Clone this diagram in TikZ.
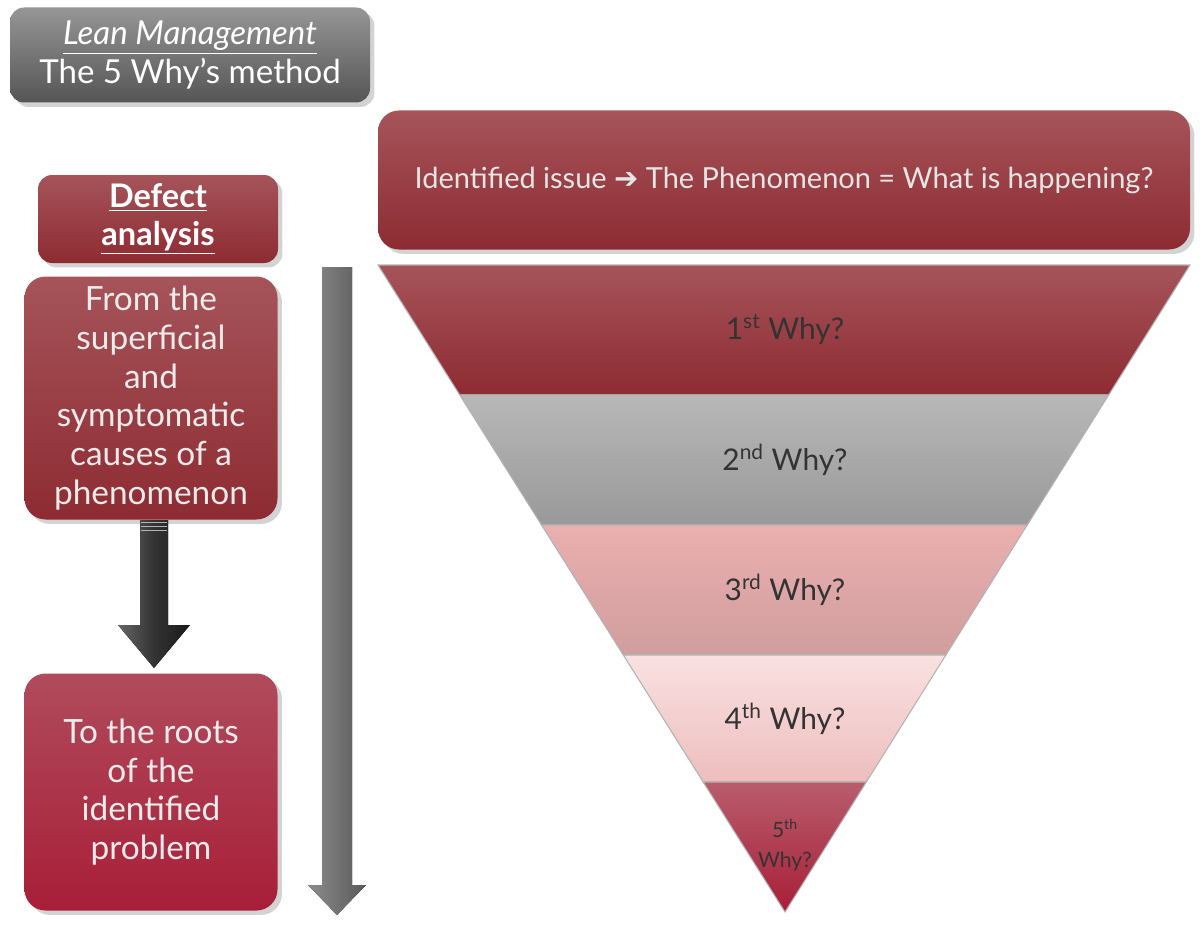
\documentclass[tikz,border=0pt]{standalone}
\usepackage{fontspec}
\setmainfont{Lato}
\newfontfamily\symfont{DejaVu Sans}
\usepackage{tikz}
\usetikzlibrary{shadows}
\definecolor{rtop}{HTML}{A5545A}
\definecolor{rbot}{HTML}{8E2B32}
\definecolor{ctop}{HTML}{B04B5C}
\definecolor{cbot}{HTML}{A81E38}
\definecolor{gtop}{HTML}{8A8A8A}
\definecolor{gbot}{HTML}{555555}
\definecolor{txt}{HTML}{333333}
\begin{document}
\begin{tikzpicture}[x=0.02cm,y=-0.02cm,
  rbox/.style={draw=none,rounded corners=12pt,top color=rtop,bottom color=rbot,text=white,align=center,drop shadow={opacity=0.35}},
  band/.style={draw=white!70!black,line width=0.6pt},
  lbl/.style={text=txt,font=\fontsize{17}{20}\selectfont}]
\useasboundingbox (0,0) rectangle (1200,926);
% title
\node[rbox,top color=gtop!90,bottom color=gbot,minimum width=360*0.02cm,minimum height=95*0.02cm,font=\fontsize{18.8}{22}\selectfont,rounded corners=8pt] (title) at (190,55) {\underline{\itshape Lean Management}\\The 5 Why's method};
% top box
\node[rbox,minimum width=812*0.02cm,minimum height=139*0.02cm,font=\fontsize{16.5}{19}\selectfont,text=white!90!black] (issue) at (784,180) {Identified issue {\symfont\bfseries ➔} The Phenomenon = What is happening?};
% defect
\node[rbox,minimum width=240*0.02cm,minimum height=88*0.02cm,font=\bfseries\fontsize{18.5}{22}\selectfont,rounded corners=8pt] (defect) at (158,219) {\underline{Defect}\\\underline{analysis}};
\node[rbox,minimum width=253*0.02cm,minimum height=243*0.02cm,font=\fontsize{19}{22}\selectfont,text=white!92!black] (from) at (151,398) {From the\\superficial\\and\\symptomatic\\causes of a\\phenomenon};
\node[rbox,top color=ctop,bottom color=cbot,minimum width=253*0.02cm,minimum height=237*0.02cm,font=\fontsize{19}{22}\selectfont,text=white!92!black] (roots) at (151,792) {To the roots\\of the\\identified\\problem};
% black arrow
\fill[left color=black!60,right color=black!90,middle color=black!80] (140,520) -- (168,520) -- (168,625) -- (190,625) -- (154,668) -- (118,625) -- (140,625) -- cycle;
\foreach \y in {522,526,530} \draw[white!70!black,line width=0.4pt] (141,\y) -- (167,\y);
% gray arrow
\fill[left color=black!45,right color=black!65] (322,267) -- (352,267) -- (352,885) -- (366,885) -- (337,915) -- (308,885) -- (322,885) -- cycle;
% triangle bands
\def\L#1{378+(#1-265)*0.629}
\def\R#1{1190-(#1-265)*0.626}
\newcommand\band[5]{%
 \path[band,top color=#3,bottom color=#4] ({\L{#1}},#1) -- ({\R{#1}},#1) -- ({\R{#2}},#2) -- ({\L{#2}},#2) -- cycle;
 \node[lbl] at (785,{(#1+#2)/2}) {#5};}
\band{265}{395}{rtop}{rbot}{1\textsuperscript{st} Why?}
\band{395}{525}{black!28}{black!40}{2\textsuperscript{nd} Why?}
\band{525}{655}{red!25!white!92!black}{red!25!white!82!black}{3\textsuperscript{rd} Why?}
\band{655}{782}{red!10!white!98!black}{red!20!white!93!black}{4\textsuperscript{th} Why?}
\path[band,top color=ctop!90,bottom color=cbot] ({\L{782}},782) -- ({\R{782}},782) -- (785,912) -- cycle;
\node[lbl,font=\fontsize{12}{17}\selectfont,align=center] at (785,845) {5\textsuperscript{th}\\Why?};
\end{tikzpicture}
\end{document}
